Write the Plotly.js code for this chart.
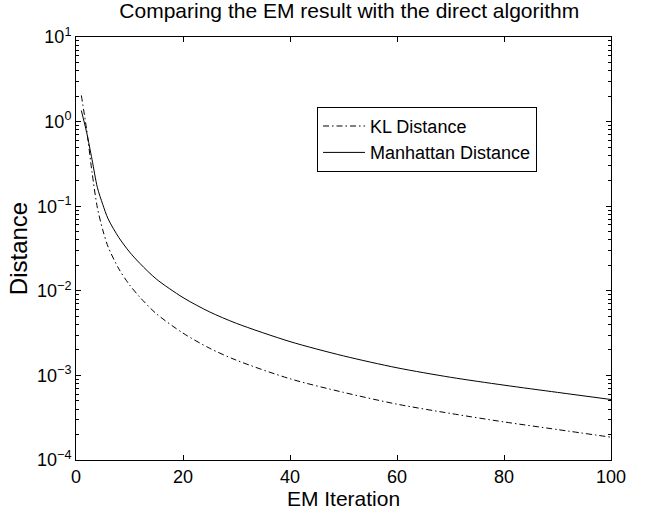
<!DOCTYPE html>
<html>
<head>
<meta charset="utf-8">
<script src="https://cdn.plot.ly/plotly-3.0.1.min.js"></script>
<style>html,body{margin:0;padding:0;background:#fff;}</style>
</head>
<body>
<div id="chart" style="width:659px;height:510px;"></div>
<script>
// Data
const iterations = [1, 2, 3, 4, 5, 6, 8, 10, 12, 15, 20, 25, 30, 40, 50, 60, 70, 80, 90, 100];
const klDistance = [2.04, 0.794, 0.251, 0.0955, 0.0525, 0.0331, 0.0182, 0.01175, 0.00832, 0.00537, 0.00316, 0.00209, 0.00151, 0.000912, 0.00063, 0.000457, 0.000355, 0.000282, 0.000229, 0.000186];
const manhattanDistance = [1.35, 0.74, 0.355, 0.166, 0.105, 0.0708, 0.0427, 0.0288, 0.0209, 0.0138, 0.00832, 0.00562, 0.00412, 0.00251, 0.0017, 0.00123, 0.00095, 0.000767, 0.00063, 0.000519];
const seriesNames = ['KL Distance', 'Manhattan Distance'];
const yTickVals = [1e-4, 1e-3, 1e-2, 1e-1, 1, 10];
const yTickText = ['10<sup>\u22124</sup>', '10<sup>\u22123</sup>', '10<sup>\u22122</sup>', '10<sup>\u22121</sup>', '10<sup>0</sup>', '10<sup>1</sup>'];
const xTickVals = [0, 20, 40, 60, 80, 100];

const minorVals = [];
for (let e = -4; e < 1; e++) {
  for (let k = 2; k <= 9; k++) minorVals.push(k * Math.pow(10, e));
}

const FONT = 'Liberation Sans, Arial, Helvetica, sans-serif';

const traces = [
  {
    x: iterations, y: klDistance, name: seriesNames[0], type: 'scatter', mode: 'lines',
    line: {color: '#000', width: 1, dash: '6px,3px,1.5px,3px', shape: 'spline', smoothing: 0.8}
  },
  {
    x: iterations, y: manhattanDistance, name: seriesNames[1], type: 'scatter', mode: 'lines',
    line: {color: '#000', width: 1, shape: 'spline', smoothing: 0.8}
  }
];

const layout = {
  width: 659, height: 510,
  margin: {l: 76, r: 48, t: 37, b: 50},
  paper_bgcolor: '#fff', plot_bgcolor: '#fff',
  font: {family: FONT, color: '#000', size: 18},
  title: {
    text: 'Comparing the EM result with the direct algorithm',
    font: {family: FONT, size: 21, color: '#000'},
    x: 0.53, xanchor: 'center', y: 0.993, yanchor: 'top'
  },
  showlegend: true,
  legend: {
    x: 0.4505, y: 0.835, xanchor: 'left', yanchor: 'top',
    bordercolor: '#000', borderwidth: 1, bgcolor: '#fff',
    font: {family: FONT, size: 18, color: '#000'},
    tracegroupgap: 0, itemwidth: 42
  },
  xaxis: {
    range: [0, 100], tickmode: 'array', tickvals: xTickVals,
    ticks: 'inside', ticklen: 5, tickcolor: '#000', tickwidth: 1,
    showline: true, linecolor: '#000', linewidth: 1, mirror: 'ticks',
    showgrid: false, zeroline: false,
    tickfont: {family: FONT, size: 18, color: '#000'},
    title: {text: 'EM Iteration', font: {family: FONT, size: 21, color: '#000'}, standoff: 3},
    automargin: false
  },
  yaxis: {
    type: 'log', range: [-4, 1], tickmode: 'array', tickvals: yTickVals, ticktext: yTickText,
    ticks: 'inside', ticklen: 5, tickcolor: '#000', tickwidth: 1,
    showline: true, linecolor: '#000', linewidth: 1, mirror: 'ticks',
    showgrid: false, zeroline: false,
    tickfont: {family: FONT, size: 18, color: '#000'},
    minor: {tickmode: 'array', tickvals: minorVals, ticks: 'inside', ticklen: 3, tickcolor: '#000', showgrid: false},
    title: {text: 'Distance', font: {family: FONT, size: 24, color: '#000'}, standoff: 2},
    automargin: false
  }
};

Plotly.newPlot('chart', traces, layout, {displayModeBar: false, staticPlot: true});
</script>
</body>
</html>
